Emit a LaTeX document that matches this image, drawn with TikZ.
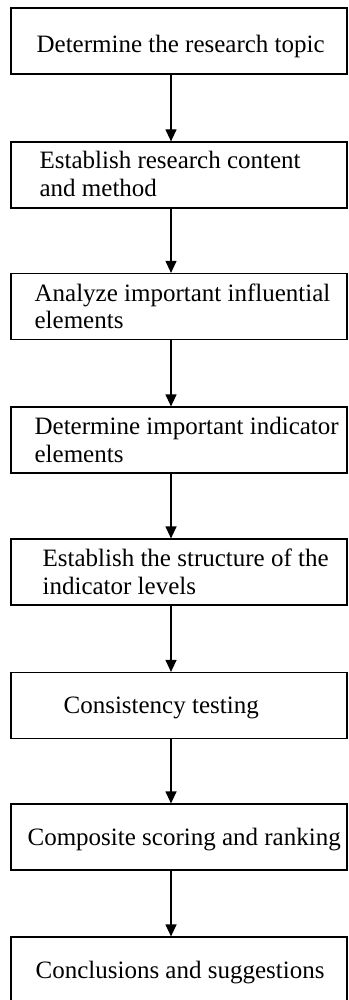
\documentclass[tikz,border=0pt]{standalone}
\usepackage{fontspec}
\setmainfont{Liberation Serif}
\usetikzlibrary{arrows.meta}
\tikzset{
  stepbox/.style={draw,line width=1.2pt,minimum width=336,minimum height=66,inner sep=0pt},
  steptext/.style={anchor=west,align=left,inner sep=0pt,font=\fontsize{25}{27.5}\selectfont},
  flow/.style={line width=1.2pt,-{Triangle[width=11pt,length=12pt]}}
}
\begin{document}
\begin{tikzpicture}[x=1pt,y=-1pt]
      \useasboundingbox (0,0) rectangle (348,1000);
      \node[stepbox] (topic) at (179,41) {};      \node[steptext] (topicT) at ([xshift=26,yshift=-5]topic.west) {Determine the research topic};
      \node[stepbox] (content) at (179,175) {};   \node[steptext] (contentT) at ([xshift=29,yshift=1]content.west) {Establish research content\\and method};
      \node[stepbox] (elements) at (179,306.5) {};\node[steptext] (elementsT) at ([xshift=24]elements.west) {Analyze important influential\\elements};
      \node[stepbox] (indic) at (179,440) {};     \node[steptext] (indicT) at ([xshift=24]indic.west) {Determine important indicator\\elements};
      \node[stepbox] (levels) at (179,572) {};    \node[steptext] (levelsT) at ([xshift=32]levels.west) {Establish the structure of the\\indicator levels};
      \node[stepbox] (testing) at (179,705.5) {}; \node[steptext] (testingT) at ([xshift=53,yshift=-2]testing.west) {Consistency testing};
      \node[stepbox] (ranking) at (179,837) {};   \node[steptext] (rankingT) at ([xshift=17,yshift=-2.5]ranking.west) {Composite scoring and ranking};
      \node[stepbox] (concl) at (179,970) {};     \node[steptext] (conclT) at ([xshift=25,yshift=-2.5]concl.west) {Conclusions and suggestions};
      \foreach \a/\b in {topic/content,content/elements,elements/indic,indic/levels,levels/testing,testing/ranking,ranking/concl}
        \draw[flow] ([xshift=-8]\a.south) -- ([xshift=-8]\b.north);
\end{tikzpicture}
\end{document}
